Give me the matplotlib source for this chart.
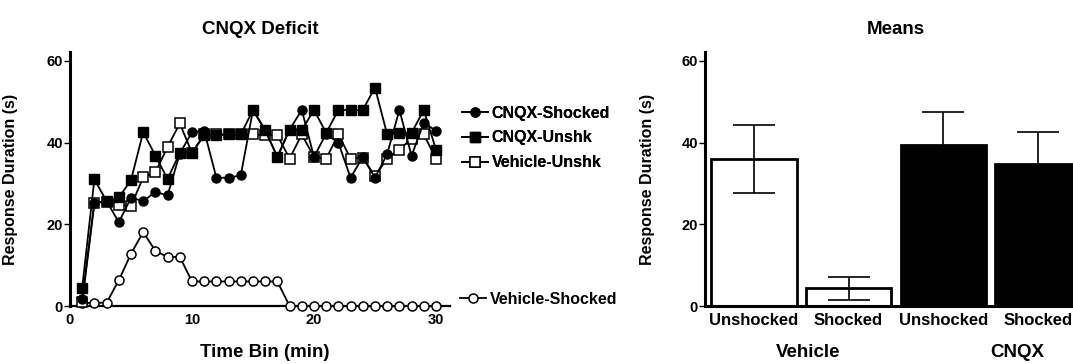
import matplotlib
matplotlib.use('Agg')
import matplotlib.pyplot as plt
import numpy as np

plt.rcParams['font.family'] = ['Liberation Sans', 'DejaVu Sans']
plt.rcParams['font.weight'] = 'bold'
plt.rcParams['axes.labelweight'] = 'bold'
plt.rcParams['axes.titleweight'] = 'bold'

# time course data (one value per 1-min bin)
time_bin = np.arange(1, 31)
cnqx_shocked = [1.6, 25.3, 25.7, 20.5, 26.5, 25.7, 27.9, 27.1, 37.3, 42.6,
                42.9, 31.4, 31.4, 32.0, 48.0, 43.0, 36.5, 43.2, 48.0, 36.5,
                42.2, 40.0, 31.4, 36.5, 31.4, 37.2, 48.0, 36.8, 44.9, 42.9]
cnqx_unshk = [4.5, 31.0, 25.7, 26.6, 30.8, 42.6, 36.8, 31.1, 37.5, 37.5,
              41.8, 41.8, 42.0, 42.0, 48.0, 43.1, 36.5, 43.2, 43.1, 48.0,
              42.4, 48.0, 48.0, 48.0, 53.5, 42.0, 42.4, 42.4, 48.0, 38.3]
vehicle_unshk = [1.0, 25.3, 25.5, 24.8, 24.5, 31.5, 32.7, 39.0, 44.7, 37.5,
                 42.0, 42.0, 42.0, 42.0, 42.0, 41.8, 41.8, 36.1, 42.0, 36.5,
                 36.1, 42.0, 36.1, 36.3, 31.8, 36.1, 38.3, 41.0, 42.0, 36.1]
vehicle_shocked = [0.7, 0.8, 0.8, 6.3, 12.8, 18.1, 13.5, 12.0, 12.0, 6.0,
                   6.0, 6.0, 6.0, 6.0, 6.0, 6.0, 6.0, 0, 0, 0,
                   0, 0, 0, 0, 0, 0, 0, 0, 0, 0]

# means panel
bar_labels = ['Unshocked', 'Shocked', 'Unshocked', 'Shocked']
bar_means = [36.0, 4.3, 39.4, 34.7]
bar_sem = [8.4, 2.9, 8.0, 7.9]
bar_colors = ['white', 'white', 'black', 'black']
group_labels = ['Vehicle', 'CNQX']

fig = plt.figure(figsize=(10.73, 3.64), dpi=100)
W, H = 1073.0, 364.0

# ---- left: time course ----
ax = fig.add_axes([70 / W, 58 / H, 380 / W, 254 / H])
ms = 6.5
lw = 1.3
l_vs, = ax.plot(time_bin, vehicle_shocked, '-o', color='black', mfc='white', mec='black',
                ms=ms, lw=lw, mew=1.1, clip_on=False, zorder=3)
l_vu, = ax.plot(time_bin, vehicle_unshk, '-s', color='black', mfc='white', mec='black',
                ms=ms, lw=lw, mew=1.1, clip_on=False, zorder=4)
l_cs, = ax.plot(time_bin, cnqx_shocked, '-o', color='black', mfc='black', mec='black',
                ms=ms, lw=lw, clip_on=False, zorder=5)
l_cu, = ax.plot(time_bin, cnqx_unshk, '-s', color='black', mfc='black', mec='black',
                ms=ms, lw=lw, clip_on=False, zorder=6)

ax.set_xlim(0, 31.15)
ax.set_ylim(0, 62.2)
ax.set_xticks([0, 10, 20, 30])
ax.set_yticks([0, 20, 40, 60])
ax.tick_params(axis='x', length=0, pad=5, labelsize=10.5)
ax.tick_params(axis='y', length=4, width=1, pad=1, labelsize=10.5)
for lbl in ax.get_xticklabels() + ax.get_yticklabels():
    lbl.set_fontweight('bold')
ax.spines['right'].set_visible(False)
ax.spines['top'].set_visible(False)
ax.spines['left'].set_linewidth(2.2)
ax.spines['bottom'].set_linewidth(1.6)
ax.set_title('CNQX Deficit', fontsize=13.5, pad=13)
ax.set_xlabel('Time Bin (min)', fontsize=13.5)
ax.xaxis.set_label_coords(0.513, -0.15)
ax.set_ylabel('Response Duration (s)', fontsize=11.5)
ax.yaxis.set_label_coords(-0.137, 0.5)

font_leg = {'size': 11.5, 'weight': 'bold'}
leg1 = fig.legend(handles=[l_cs, l_cu, l_vu],
                  labels=['CNQX-Shocked', 'CNQX-Unshk', 'Vehicle-Unshk'],
                  loc='center left', bbox_to_anchor=(462 / W, 1 - 138 / H),
                  frameon=False, prop=font_leg, handlelength=1.6, handletextpad=0.25,
                  labelspacing=0.62, borderpad=0, borderaxespad=0, numpoints=1)
leg2 = fig.legend(handles=[l_vs], labels=['Vehicle-Shocked'],
                  loc='center left', bbox_to_anchor=(460 / W, 1 - 299 / H),
                  frameon=False, prop=font_leg, handlelength=1.6, handletextpad=0.25,
                  borderpad=0, borderaxespad=0, numpoints=1)
fig.add_artist(leg1)

# ---- right: means ----
ax2 = fig.add_axes([705 / W, 58 / H, 382 / W, 254 / H])
xpos = np.arange(len(bar_means))
ax2.bar(xpos, bar_means, width=0.9, color=bar_colors, edgecolor='black', linewidth=2, zorder=2)
ax2.errorbar(xpos, bar_means, yerr=bar_sem, fmt='none', ecolor='black',
             elinewidth=1.2, capsize=15, capthick=1.2, zorder=3)
ax2.set_xlim(-0.517, 3.52)
ax2.set_ylim(0, 62.2)
ax2.set_yticks([0, 20, 40, 60])
ax2.set_xticks(xpos)
ax2.set_xticklabels(bar_labels, fontsize=12, fontweight='bold')
ax2.tick_params(axis='x', length=0, pad=5)
ax2.tick_params(axis='y', length=4, width=1, pad=1, labelsize=10.5)
for lbl in ax2.get_yticklabels():
    lbl.set_fontweight('bold')
ax2.spines['right'].set_visible(False)
ax2.spines['top'].set_visible(False)
ax2.spines['left'].set_linewidth(2.2)
ax2.spines['bottom'].set_linewidth(2.2)
ax2.set_title('Means', fontsize=13.5, pad=13)
ax2.set_ylabel('Response Duration (s)', fontsize=11.5)
ax2.yaxis.set_label_coords(-0.131, 0.5)
group_x = [0.57, 2.78]
for gx, glab in zip(group_x, group_labels):
    ax2.text(gx, -0.185, glab, transform=ax2.get_xaxis_transform(), ha='center', va='center',
             fontsize=13.5, fontweight='bold')

fig.savefig('out.png', dpi=100)
